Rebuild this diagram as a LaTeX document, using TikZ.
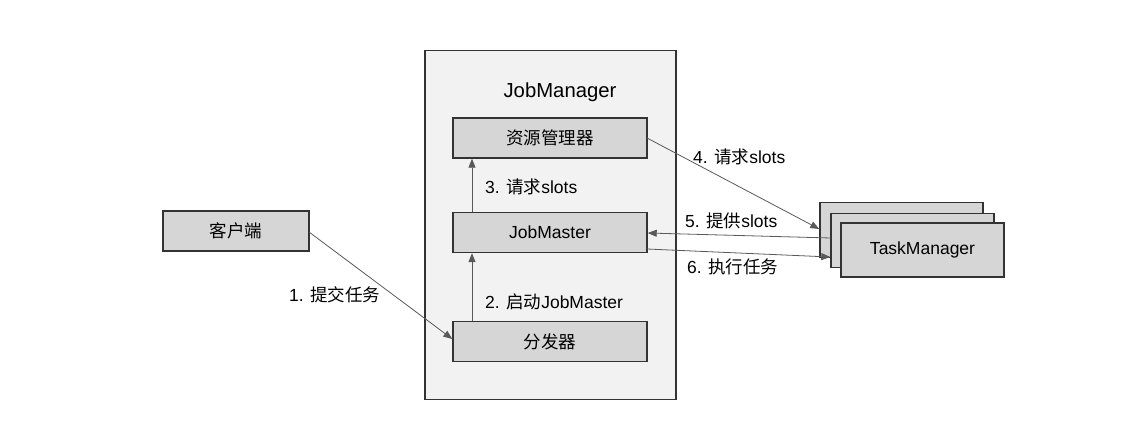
\documentclass[tikz,border=0pt]{standalone}
\usepackage{fontspec}
\setmainfont{Liberation Sans}
\newfontfamily\cjk{Noto Sans CJK SC}
\newcommand{\zh}[1]{{\cjk #1}}
\usetikzlibrary{arrows.meta}
\begin{document}
\begin{tikzpicture}[x=1pt,y=-1pt,
  every node/.style={font=\fontsize{17.5}{20}\selectfont},
  box/.style={draw=black!80,line width=1.4pt,fill=black!16,minimum height=40pt,inner sep=0pt},
  flow/.style={draw=black!65,line width=0.8pt,-{Triangle[length=9pt,width=7pt]}},
  lbl/.style={anchor=west,inner sep=0pt}]
\useasboundingbox (0,0) rectangle (1134,424);
% JobManager container
\node[draw=black!80,line width=1.2pt,fill=black!5,minimum width=251pt,minimum height=349pt,inner sep=0pt] (jm) at (550.5,225) {};
\node[font=\fontsize{20.3}{23}\selectfont] (jmt) at (560,92) {JobManager};
% components
\node[box,minimum width=194pt] (rm) at (550,138) {\zh{资源管理器}};
\node[box,minimum width=194pt] (jms) at (550,232.5) {JobMaster};
\node[box,minimum width=194pt] (disp) at (550,341.5) {\zh{分发器}};
\node[box,minimum width=146pt] (client) at (236,231) {\zh{客户端}};
% TaskManager stack
\node[box,minimum width=163pt,minimum height=55pt] (tm1) at (901.5,230) {};
\node[box,minimum width=163pt,minimum height=54pt] (tm2) at (912.5,240.5) {};
\node[box,minimum width=163pt,minimum height=54pt] (tm3) at (922.5,250) {TaskManager};
% connectors
\coordinate (c1) at (309,232);
\coordinate (c4s) at (647,138);
\coordinate (c5s) at (831,238);
\coordinate (c6s) at (647,249);
\draw[flow] (c1) -- (disp.west |- 0,339);
\draw[flow] (disp.north -| 472,0) -- (jms.south -| 472,0);
\draw[flow] (jms.north -| 472,0) -- (rm.south -| 472,0);
\draw[flow] (c4s) -- (tm1.west |- 0,229);
\draw[flow] (c5s) -- (jms.east |- 0,233);
\draw[flow] (c6s) -- (tm2.west |- 0,257);
% labels
\node[lbl] (l1) at (289,295) {1. \zh{提交任务}};
\node[lbl] (l2) at (485,302) {2. \zh{启动}JobMaster};
\node[lbl] (l3) at (485,187) {3. \zh{请求}slots};
\node[lbl] (l4) at (693,157) {4. \zh{请求}slots};
\node[lbl] (l5) at (685,221) {5. \zh{提供}slots};
\node[lbl] (l6) at (687,267) {6. \zh{执行任务}};
\end{tikzpicture}
\end{document}
